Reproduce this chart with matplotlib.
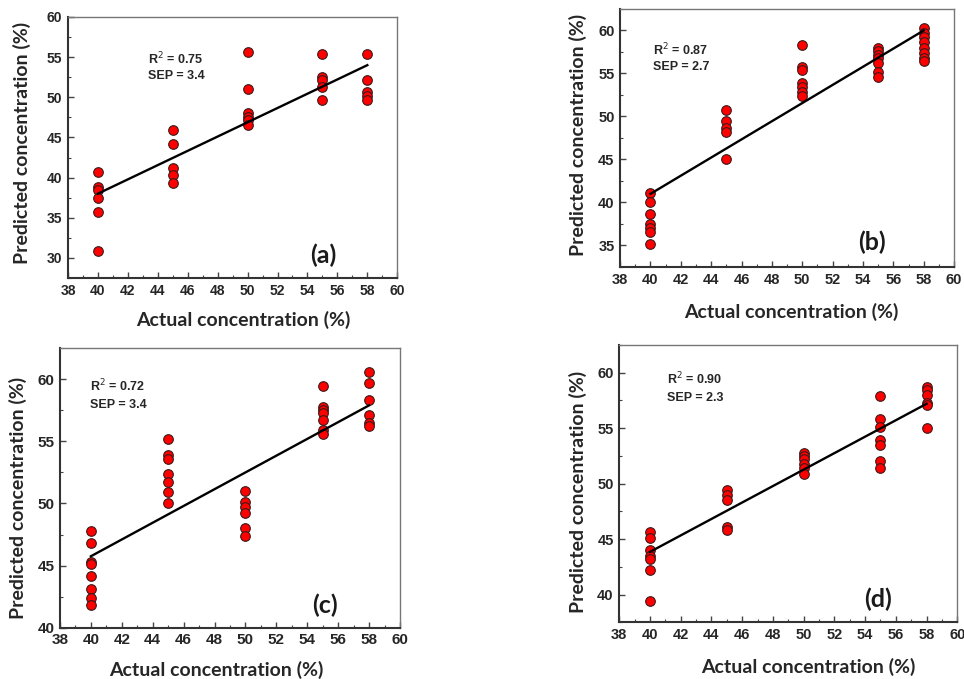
import matplotlib
matplotlib.use("Agg")
import matplotlib.pyplot as plt
from matplotlib.ticker import MultipleLocator

# ---------------- data ----------------
x_levels = [40, 45, 50, 55, 58]

# panel (a)
a_pred = [
    [40.7, 38.8, 38.4, 37.5, 35.7, 30.8],
    [45.9, 44.2, 41.2, 40.3, 39.3],
    [55.7, 51.0, 48.0, 47.6, 47.2, 46.6],
    [55.4, 52.5, 52.1, 51.3, 49.7],
    [55.4, 52.1, 50.6, 50.2, 49.7],
]
a_fit = [38.0, 54.0]
a_stats = ["R$^{2}$ = 0.75", "SEP = 3.4"]

# panel (b)
b_pred = [
    [41.1, 40.1, 38.7, 37.5, 37.0, 36.6, 35.2],
    [50.8, 49.5, 48.7, 48.2, 45.1],
    [58.3, 55.7, 55.4, 53.9, 53.4, 52.9, 52.4],
    [58.0, 57.6, 57.2, 56.8, 56.2, 55.2, 54.6],
    [60.3, 59.7, 59.2, 58.7, 58.0, 57.4, 56.8, 56.4],
]
b_fit = [41.0, 60.0]
b_stats = ["R$^{2}$ = 0.87", "SEP = 2.7"]

# panel (c)
c_pred = [
    [47.8, 46.8, 45.3, 45.1, 44.2, 43.1, 42.4, 41.8],
    [55.2, 53.9, 53.6, 52.4, 51.7, 50.9, 50.0],
    [51.0, 50.1, 49.7, 49.2, 48.0, 47.4],
    [59.5, 57.8, 57.5, 57.3, 56.7, 55.9, 55.6],
    [60.6, 59.7, 58.3, 57.1, 56.5, 56.2],
]
c_fit = [45.75, 57.9]
c_stats = ["R$^{2}$ = 0.72", "SEP = 3.4"]

# panel (d)
d_pred = [
    [45.6, 45.1, 44.0, 43.5, 43.2, 42.2, 39.4],
    [49.4, 49.0, 48.5, 46.1, 45.8],
    [52.8, 52.5, 52.2, 51.8, 51.4, 50.9],
    [57.9, 55.8, 55.1, 53.9, 53.5, 52.0, 51.4],
    [58.7, 58.4, 58.0, 57.3, 57.1, 55.0],
]
d_fit = [43.85, 57.2]
d_stats = ["R$^{2}$ = 0.90", "SEP = 2.3"]

panel_tags = ["(a)", "(b)", "(c)", "(d)"]
x_label = "Actual concentration (%)"
y_label = "Predicted concentration (%)"

# ---------------- styling / layout ----------------
TICK_FONT = ["Liberation Sans Narrow", "Liberation Sans", "DejaVu Sans"]
LABEL_FONT = ["Lato", "DejaVu Sans"]
TEXT_COL = "#262626"

fig = plt.figure(figsize=(9.64, 6.79), dpi=100)

panels = [
    dict(pred=a_pred, fit=a_fit, stats=a_stats, tag=panel_tags[0],
         rect=[0.0705, 0.5906, 0.3416, 0.3844], ylim=(27.5, 60),
         stat_pos=(43.35, 54.8, 52.6), tag_pos=(55.05, 30.3),
         xl=(0.531, -0.161), yl=(-0.140, 0.517), fs_tick=10.0, fs_lab=14),
    dict(pred=b_pred, fit=b_fit, stats=b_stats, tag=panel_tags[1],
         rect=[0.6432, 0.6068, 0.3465, 0.3800], ylim=(32.5, 62.5),
         stat_pos=(40.15, 57.7, 55.7), tag_pos=(54.6, 35.4),
         xl=(0.514, -0.174), yl=(-0.126, 0.512), fs_tick=10.5, fs_lab=14),
    dict(pred=c_pred, fit=c_fit, stats=c_stats, tag=panel_tags[2],
         rect=[0.0622, 0.0756, 0.3527, 0.4115], ylim=(40, 62.5),
         stat_pos=(39.95, 59.5, 57.9), tag_pos=(55.15, 41.8),
         xl=(0.461, -0.151), yl=(-0.124, 0.464), fs_tick=11.0, fs_lab=14),
    dict(pred=d_pred, fit=d_fit, stats=d_stats, tag=panel_tags[3],
         rect=[0.6424, 0.0835, 0.3506, 0.4084], ylim=(37.5, 62.5),
         stat_pos=(41.1, 59.4, 57.75), tag_pos=(54.84, 39.6),
         xl=(0.558, -0.160), yl=(-0.122, 0.471), fs_tick=10.5, fs_lab=14),
]

for p in panels:
    ax = fig.add_axes(p["rect"])
    xs, ys = [], []
    for xv, col in zip(x_levels, p["pred"]):
        xs += [xv] * len(col)
        ys += col
    ax.scatter(xs, ys, s=48, c="#ff0000", edgecolors="#3a1a1a",
               linewidths=0.8, zorder=3)
    ax.plot([x_levels[0], x_levels[-1]], p["fit"], color="black",
            lw=1.7, zorder=4)

    ax.set_xlim(38, 60)
    ax.set_ylim(*p["ylim"])
    ax.xaxis.set_major_locator(MultipleLocator(2))
    ax.xaxis.set_minor_locator(MultipleLocator(1))
    ax.yaxis.set_major_locator(MultipleLocator(5))
    ax.yaxis.set_minor_locator(MultipleLocator(2.5))
    ax.tick_params(which="both", direction="in", top=False, right=False,
                   colors="#444444", labelcolor=TEXT_COL)
    ax.tick_params(which="major", length=4, width=1.0, labelsize=p["fs_tick"],
                   pad=4)
    ax.tick_params(which="minor", length=2.5, width=0.8)
    for lab in ax.get_xticklabels() + ax.get_yticklabels():
        lab.set_family(TICK_FONT)
        lab.set_fontweight("bold")

    for side in ("left", "bottom"):
        ax.spines[side].set_linewidth(1.5)
        ax.spines[side].set_color("#333333")
    for side in ("top", "right"):
        ax.spines[side].set_linewidth(1.0)
        ax.spines[side].set_color("#777777")

    ax.set_xlabel(x_label, fontsize=p["fs_lab"], fontweight="bold",
                  family=LABEL_FONT, color=TEXT_COL)
    ax.set_ylabel(y_label, fontsize=p["fs_lab"], fontweight="bold",
                  family=LABEL_FONT, color=TEXT_COL)
    ax.xaxis.set_label_coords(*p["xl"])
    ax.yaxis.set_label_coords(*p["yl"])
    ax.xaxis.label.set_va("center")
    ax.yaxis.label.set_va("center")

    sx, sy1, sy2 = p["stat_pos"]
    ax.text(sx, sy1, p["stats"][0], fontsize=9, fontweight="bold",
            family=TICK_FONT, color=TEXT_COL, ha="left", va="center")
    ax.text(sx, sy2, p["stats"][1], fontsize=9, fontweight="bold",
            family=TICK_FONT, color=TEXT_COL, ha="left", va="center")
    ax.text(p["tag_pos"][0], p["tag_pos"][1], p["tag"], fontsize=18,
            fontweight="bold", family=LABEL_FONT, color="#1a1a1a",
            ha="center", va="center")

fig.savefig("out.png", dpi=100)
